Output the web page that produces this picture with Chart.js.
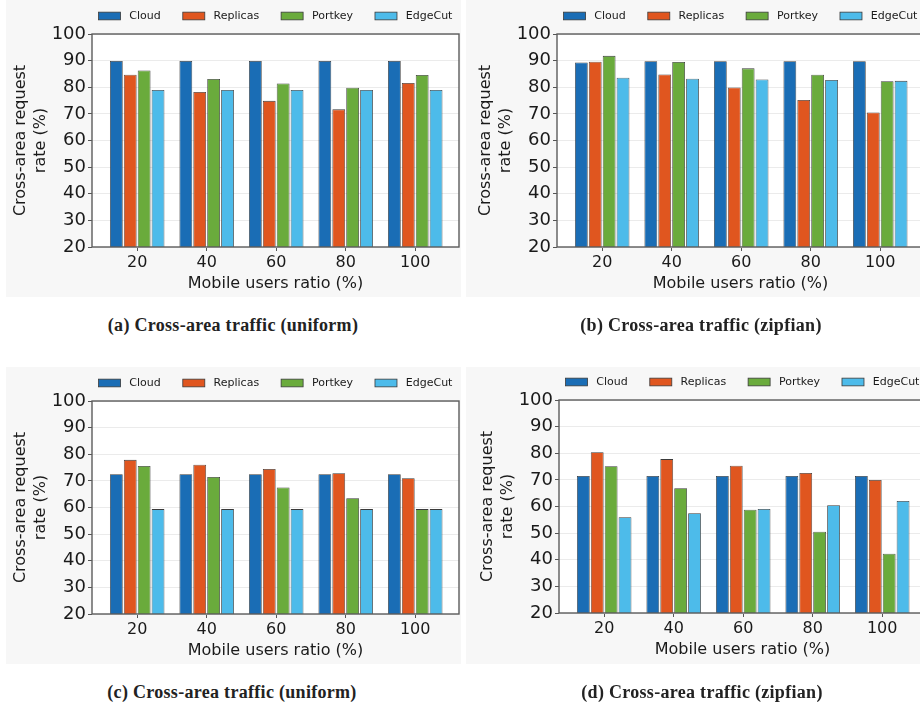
<!DOCTYPE html>
<html>
<head>
<meta charset="utf-8">
<script src="https://cdn.jsdelivr.net/npm/chart.js@4.4.1/dist/chart.umd.min.js"></script>
<style>
  html, body { margin: 0; padding: 0; background: #fff; width: 920px; height: 708px; overflow: hidden; }
  body { position: relative; }
  .panel { position: absolute; background: #f7f7f7; }
  canvas { position: absolute; }
  .cap { position: absolute; width: 360px; text-align: center; line-height: 20px; letter-spacing: 0.3px;
         font: bold 18px "Liberation Serif", "DejaVu Serif", serif; color: #222; }
</style>
</head>
<body>
<div class="panel" style="left:6px;top:0;width:455px;height:297px"></div>
<div class="panel" style="left:466px;top:0;width:454px;height:297px"></div>
<div class="panel" style="left:6px;top:367px;width:455px;height:297px"></div>
<div class="panel" style="left:466px;top:367px;width:454px;height:297px"></div>

<canvas id="chartA" width="469" height="300" style="left:0px;top:0px"></canvas>
<canvas id="chartB" width="469" height="300" style="left:465px;top:0px"></canvas>
<canvas id="chartC" width="469" height="300" style="left:0px;top:367px"></canvas>
<canvas id="chartD" width="469" height="300" style="left:467px;top:366px"></canvas>

<div class="cap" style="left:53px;top:315px">(a) Cross-area traffic (uniform)</div>
<div class="cap" style="left:521px;top:315px">(b) Cross-area traffic (zipfian)</div>
<div class="cap" style="left:52px;top:682px">(c) Cross-area traffic (uniform)</div>
<div class="cap" style="left:522px;top:682px">(d) Cross-area traffic (zipfian)</div>

<script>
// ------------------- Data -------------------//
var categories = ['20', '40', '60', '80', '100'];
var seriesNames = ['Cloud', 'Replicas', 'Portkey', 'EdgeCut'];
var seriesColors = ['#1a6db5', '#e0561f', '#6aab3c', '#4dbbea'];
var yTicks = [20, 30, 40, 50, 60, 70, 80, 90, 100];

// (a) uniform
var cloudA    = [89.9, 89.9, 89.9, 89.9, 89.9];
var replicasA = [84.7, 78.2, 74.9, 71.7, 81.6];
var portkeyA  = [86.3, 83.1, 81.4, 79.8, 84.6];
var edgecutA  = [79.0, 79.0, 79.0, 79.0, 79.0];

// (b) zipfian
var cloudB    = [89.3, 89.8, 89.8, 89.8, 89.8];
var replicasB = [89.6, 84.8, 79.9, 75.2, 70.5];
var portkeyB  = [91.8, 89.5, 87.1, 84.7, 82.3];
var edgecutB  = [83.6, 83.2, 82.9, 82.7, 82.4];

// (c) uniform
var cloudC    = [72.5, 72.5, 72.5, 72.5, 72.5];
var replicasC = [77.9, 76.1, 74.5, 72.9, 71.0];
var portkeyC  = [75.6, 71.5, 67.5, 63.5, 59.4];
var edgecutC  = [59.4, 59.4, 59.4, 59.4, 59.4];

// (d) zipfian
var cloudD    = [71.5, 71.5, 71.5, 71.5, 71.5];
var replicasD = [80.4, 77.8, 75.3, 72.6, 70.0];
var portkeyD  = [75.1, 66.9, 58.8, 50.5, 42.3];
var edgecutD  = [56.0, 57.5, 59.1, 60.5, 62.1];

// ------------------- Plugin: plot bg, frame, legend -------------------//
var frameLegend = {
  id: 'frameLegend',
  beforeDraw: function(chart) {
    var a = chart.chartArea, ctx = chart.ctx;
    ctx.save();
    ctx.fillStyle = '#ffffff';
    ctx.fillRect(a.left, a.top, a.right - a.left, a.bottom - a.top);
    ctx.restore();
  },
  afterDatasetsDraw: function(chart) {
    var a = chart.chartArea, ctx = chart.ctx;
    ctx.save();
    ctx.strokeStyle = '#5c5c5c';
    ctx.lineWidth = 1.4;
    ctx.strokeRect(a.left, a.top, a.right - a.left, a.bottom - a.top);
    ctx.restore();
  },
  afterDraw: function(chart) {
    var a = chart.chartArea, ctx = chart.ctx;
    var fs = 11, handle = 22, gap = 8.8, col = 22, boxH = 7.7;
    ctx.save();
    ctx.font = fs + 'px "DejaVu Sans"';
    var widths = chart.data.datasets.map(function(d) { return ctx.measureText(d.label).width; });
    var total = widths.reduce(function(s, w) { return s + handle + gap + w; }, 0) + col * (widths.length - 1);
    var x = (a.left + a.right) / 2 - total / 2;
    var y = a.top - 18;
    chart.data.datasets.forEach(function(d, i) {
      ctx.fillStyle = d.backgroundColor;
      ctx.fillRect(x, y - boxH / 2, handle, boxH);
      ctx.strokeStyle = '#3a3a3a';
      ctx.lineWidth = 0.8;
      ctx.strokeRect(x, y - boxH / 2, handle, boxH);
      ctx.fillStyle = '#1a1a1a';
      ctx.textBaseline = 'middle';
      ctx.textAlign = 'left';
      ctx.fillText(d.label, x + handle + gap, y + 0.5);
      x += handle + gap + widths[i] + col;
    });
    ctx.restore();
  }
};

// ------------------- Chart builder -------------------//
function makeChart(id, series) {
  var datasets = series.map(function(vals, i) {
    return {
      label: seriesNames[i],
      data: vals.map(function(v, j) { return { x: j, y: v }; }),
      backgroundColor: seriesColors[i],
      borderColor: '#3a3a3a',
      borderWidth: 0.8,
      categoryPercentage: 0.8,
      barPercentage: 0.92
    };
  });

  return new Chart(document.getElementById(id), {
    type: 'bar',
    data: { datasets: datasets },
    plugins: [frameLegend],
    options: {
      responsive: false,
      animation: false,
      layout: { padding: { top: 34, right: 10, bottom: 0, left: 0 } },
      plugins: { legend: { display: false }, tooltip: { enabled: false } },
      scales: {
        x: {
          type: 'linear',
          min: -0.65,
          max: 4.63,
          offset: false,
          afterFit: function(s) { s.height = 53; },
          afterBuildTicks: function(s) {
            s.ticks = categories.map(function(c, i) { return { value: i }; });
          },
          grid: { offset: false, drawOnChartArea: false, drawTicks: true, tickLength: 4, tickColor: '#555' },
          border: { display: false },
          ticks: {
            autoSkip: false,
            maxRotation: 0,
            padding: 2,
            color: '#1a1a1a',
            font: { family: 'DejaVu Sans', size: 16 },
            callback: function(v) { return categories[v]; }
          },
          title: {
            display: true,
            text: 'Mobile users ratio (%)',
            color: '#1a1a1a',
            font: { family: 'DejaVu Sans', size: 16 },
            padding: { top: 0, bottom: 7 }
          }
        },
        y: {
          min: 20,
          max: 100,
          afterFit: function(s) { s.width = 92; },
          afterBuildTicks: function(s) {
            s.ticks = yTicks.map(function(v) { return { value: v }; });
          },
          grid: { color: '#ebebeb', lineWidth: 1, tickLength: 4, tickColor: '#555' },
          border: { display: false },
          ticks: {
            padding: 2,
            color: '#1a1a1a',
            font: { family: 'DejaVu Sans', size: 18 }
          },
          title: {
            display: true,
            text: ['Cross-area request', 'rate (%)'],
            color: '#1a1a1a',
            font: { family: 'DejaVu Sans', size: 16, lineHeight: 1.25 },
            padding: { top: 11, bottom: 0 }
          }
        }
      }
    }
  });
}

makeChart('chartA', [cloudA, replicasA, portkeyA, edgecutA]);
makeChart('chartB', [cloudB, replicasB, portkeyB, edgecutB]);
makeChart('chartC', [cloudC, replicasC, portkeyC, edgecutC]);
makeChart('chartD', [cloudD, replicasD, portkeyD, edgecutD]);
</script>
</body>
</html>
